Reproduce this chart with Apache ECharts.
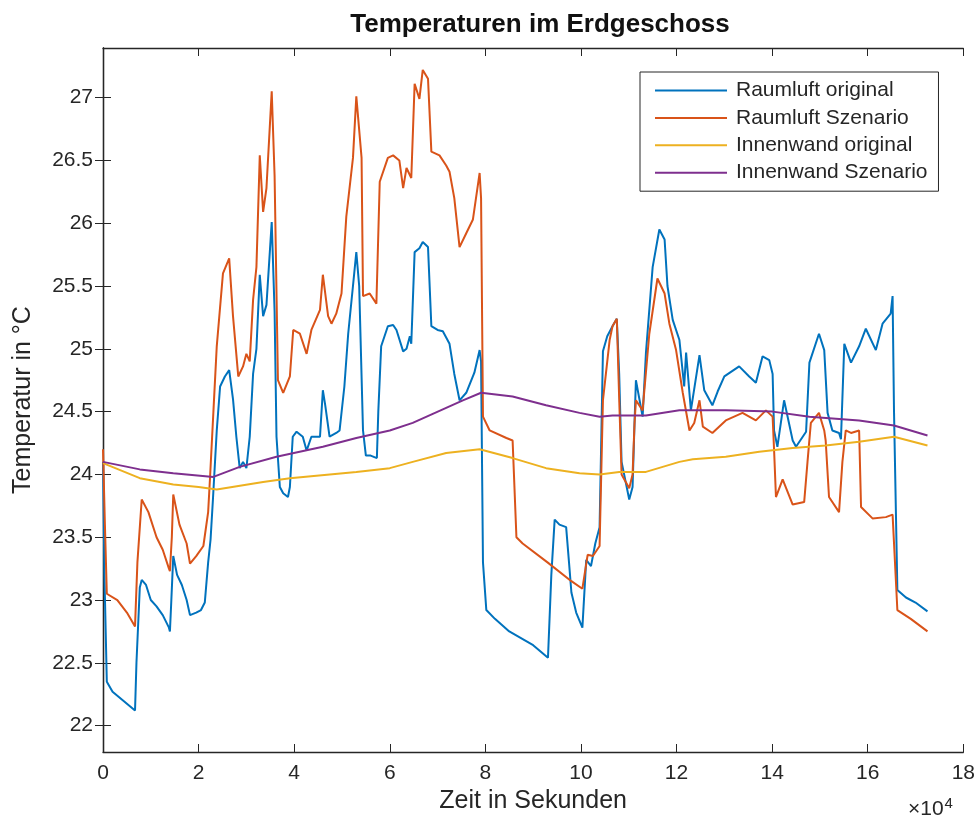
<!DOCTYPE html>
<html>
<head>
<meta charset="utf-8">
<script src="https://cdn.jsdelivr.net/npm/echarts@6/dist/echarts.min.js"></script>
<style>html,body{margin:0;padding:0;background:#fff;}#c{width:978px;height:821px;}</style>
</head>
<body>
<div id="c"></div>
<script>
// time in units of 10^4 s
const xTicks = [0, 2, 4, 6, 8, 10, 12, 14, 16, 18];
const yTicks = [22, 22.5, 23, 23.5, 24, 24.5, 25, 25.5, 26, 26.5, 27];
const seriesNames = ['Raumluft original', 'Raumluft Szenario', 'Innenwand original', 'Innenwand Szenario'];

const raumOrigT = [0,0.03,0.08,0.2,0.67,0.70,0.77,0.81,0.9,1.0,1.12,1.25,1.38,1.40,1.43,1.47,1.55,1.65,1.75,1.82,1.95,2.05,2.13,2.2,2.25,2.3,2.38,2.45,2.55,2.64,2.72,2.79,2.86,2.93,3.0,3.07,3.14,3.21,3.28,3.35,3.42,3.53,3.59,3.63,3.70,3.77,3.87,3.91,3.97,4.05,4.18,4.26,4.36,4.54,4.60,4.65,4.74,4.88,4.95,5.05,5.13,5.23,5.30,5.36,5.44,5.5,5.6,5.73,5.76,5.82,5.96,6.07,6.14,6.28,6.35,6.42,6.45,6.52,6.62,6.69,6.80,6.87,7.0,7.11,7.25,7.35,7.46,7.60,7.77,7.88,7.91,7.95,8.02,8.2,8.5,9.0,9.31,9.38,9.45,9.55,9.69,9.75,9.80,9.9,10.03,10.11,10.21,10.30,10.39,10.46,10.55,10.66,10.75,10.80,10.85,11.01,11.08,11.12,11.15,11.29,11.36,11.50,11.64,11.75,11.81,11.92,12.06,12.16,12.20,12.30,12.48,12.58,12.75,12.86,13.0,13.31,13.52,13.66,13.80,13.94,14.01,14.04,14.11,14.25,14.43,14.50,14.71,14.78,14.98,15.09,15.16,15.26,15.40,15.44,15.51,15.65,15.82,15.96,16.17,16.31,16.48,16.52,16.55,16.62,16.8,17.0,17.25];
const raumOrigV = [24.1,23.2,22.35,22.27,22.12,22.5,23.1,23.16,23.12,23.0,22.95,22.88,22.78,22.75,23.0,23.35,23.2,23.12,23.0,22.88,22.9,22.92,22.98,23.3,23.48,23.8,24.35,24.7,24.78,24.83,24.6,24.3,24.05,24.1,24.05,24.3,24.8,25.0,25.59,25.26,25.35,26.01,25.3,24.3,23.9,23.85,23.82,23.9,24.3,24.34,24.3,24.19,24.3,24.3,24.67,24.55,24.3,24.33,24.35,24.7,25.12,25.5,25.77,25.5,24.35,24.15,24.15,24.13,24.5,25.02,25.18,25.19,25.15,24.98,25.0,25.1,25.04,25.77,25.8,25.85,25.81,25.18,25.15,25.14,25.04,24.8,24.59,24.65,24.81,24.99,24.9,23.3,22.92,22.85,22.75,22.64,22.54,23.2,23.64,23.6,23.58,23.3,23.06,22.9,22.78,23.32,23.27,23.45,23.58,24.98,25.1,25.18,25.24,24.8,24.1,23.8,23.9,24.4,24.75,24.46,24.97,25.65,25.95,25.87,25.5,25.23,25.07,24.7,24.97,24.51,24.95,24.67,24.55,24.66,24.78,24.86,24.78,24.73,24.94,24.91,24.8,24.35,24.22,24.59,24.27,24.22,24.34,24.89,25.12,24.99,24.49,24.35,24.33,24.28,25.04,24.89,25.02,25.16,24.99,25.2,25.28,25.42,24.5,23.08,23.02,22.98,22.91];

const raumSzenT = [0,0.04,0.08,0.3,0.5,0.67,0.72,0.81,0.95,1.12,1.25,1.38,1.40,1.44,1.47,1.6,1.75,1.82,1.95,2.10,2.2,2.24,2.31,2.38,2.51,2.64,2.72,2.83,2.93,3.0,3.07,3.14,3.21,3.28,3.35,3.42,3.53,3.59,3.66,3.77,3.91,3.98,4.12,4.26,4.36,4.54,4.60,4.71,4.78,4.88,4.99,5.09,5.23,5.30,5.41,5.44,5.58,5.72,5.79,5.96,6.07,6.2,6.28,6.35,6.45,6.52,6.62,6.69,6.80,6.87,7.04,7.18,7.25,7.35,7.46,7.60,7.74,7.88,7.91,7.95,8.09,8.44,8.57,8.61,8.65,8.78,9.3,9.8,10.03,10.14,10.25,10.39,10.46,10.60,10.66,10.75,10.80,10.85,11.01,11.08,11.12,11.15,11.29,11.43,11.60,11.75,11.85,11.99,12.13,12.27,12.37,12.48,12.55,12.75,13.03,13.38,13.66,13.87,14.01,14.04,14.08,14.22,14.43,14.67,14.74,14.81,14.98,15.09,15.12,15.19,15.40,15.47,15.54,15.65,15.82,15.86,16.10,16.38,16.52,16.62,16.9,17.25];
const raumSzenV = [24.2,23.6,23.05,23.0,22.9,22.79,23.3,23.8,23.7,23.5,23.4,23.25,23.23,23.5,23.84,23.6,23.45,23.29,23.35,23.43,23.7,23.98,24.5,25.02,25.6,25.72,25.26,24.78,24.86,24.96,24.9,25.39,25.65,26.54,26.09,26.28,27.05,26.38,24.75,24.65,24.78,25.15,25.12,24.96,25.15,25.31,25.59,25.26,25.2,25.28,25.44,26.05,26.52,27.01,26.52,25.42,25.44,25.36,26.33,26.52,26.54,26.5,26.28,26.44,26.36,27.11,26.99,27.22,27.15,26.57,26.54,26.46,26.41,26.2,25.81,25.92,26.03,26.4,26.2,24.46,24.35,24.29,24.27,24.26,23.5,23.45,23.3,23.15,23.09,23.36,23.35,23.43,24.59,25.07,25.18,25.24,24.6,24.0,23.89,24.0,24.4,24.59,24.51,25.12,25.56,25.44,25.2,24.99,24.65,24.35,24.41,24.59,24.38,24.33,24.43,24.49,24.43,24.51,24.46,24.2,23.82,23.96,23.76,23.78,24.1,24.41,24.49,24.35,24.27,23.82,23.7,24.1,24.35,24.33,24.35,23.74,23.65,23.66,23.68,22.92,22.85,22.75];

const wandOrigT = [0,0.77,1.47,2.0,2.38,3.35,3.91,5.30,6.0,6.48,7.18,7.88,8.57,9.27,9.97,10.39,10.80,11.36,12.06,12.34,13.03,13.73,14.43,15.12,15.82,16.55,17.25];
const wandOrigV = [24.09,23.97,23.92,23.9,23.88,23.94,23.97,24.02,24.05,24.1,24.17,24.2,24.13,24.05,24.01,24.0,24.02,24.02,24.1,24.12,24.14,24.18,24.21,24.23,24.26,24.3,24.23];

const wandSzenT = [0,0.77,1.47,2.31,2.86,3.63,4.60,5.30,6.0,6.48,7.18,7.53,7.91,8.57,9.27,9.97,10.39,10.66,11.36,12.06,13.03,14.01,14.78,15.82,16.55,17.25];
const wandSzenV = [24.1,24.04,24.01,23.98,24.06,24.14,24.22,24.29,24.35,24.41,24.53,24.59,24.65,24.62,24.55,24.49,24.46,24.47,24.47,24.51,24.51,24.5,24.46,24.43,24.39,24.31];

const colors = ['#0072BD', '#D95319', '#EDB120', '#7E2F8E'];
const zip = (t, v) => t.map((x, i) => [x, v[i]]);
const allData = [zip(raumOrigT, raumOrigV), zip(raumSzenT, raumSzenV), zip(wandOrigT, wandOrigV), zip(wandSzenT, wandSzenV)];

const axisColor = '#262626';
const font = 'Liberation Sans, Arial, Helvetica, sans-serif';

const chart = echarts.init(document.getElementById('c'), null, {renderer: 'canvas'});
chart.setOption({
  backgroundColor: '#fff',
  animation: false,
  color: colors,
  title: {
    text: 'Temperaturen im Erdgeschoss',
    left: 535, top: 7, textAlign: 'center',
    textStyle: {fontFamily: font, fontSize: 26, fontWeight: 'bold', color: '#111'}
  },
  legend: {
    data: seriesNames,
    orient: 'vertical',
    left: 640, top: 72,
    padding: [8, 11, 8, 15],
    icon: 'rect',
    itemWidth: 72, itemHeight: 2, itemGap: 6.4,
    backgroundColor: '#fff',
    borderColor: axisColor, borderWidth: 1,
    textStyle: {fontFamily: font, fontSize: 21, color: axisColor, lineHeight: 20, padding: [0, 0, 0, 4]}
  },
  grid: {left: 103, right: 14, top: 48, bottom: 69, containLabel: false},
  xAxis: [{
    type: 'value', min: 0, max: 18, interval: 2,
    position: 'bottom',
    name: 'Zeit in Sekunden', nameLocation: 'middle', nameGap: 37,
    nameTextStyle: {fontFamily: font, fontSize: 25, color: axisColor},
    axisLine: {show: true, lineStyle: {color: axisColor, width: 1.3}},
    axisTick: {show: true, inside: true, length: 8, lineStyle: {color: axisColor}},
    axisLabel: {fontFamily: font, fontSize: 21, color: axisColor, margin: 11},
    splitLine: {show: false}
  }, {
    type: 'value', min: 0, max: 18, interval: 2,
    position: 'top',
    axisLine: {show: true, lineStyle: {color: axisColor, width: 1.3}},
    axisTick: {show: true, inside: true, length: 8, lineStyle: {color: axisColor}},
    axisLabel: {show: false},
    splitLine: {show: false}
  }],
  yAxis: [{
    type: 'value', min: 21.79, max: 27.395,
    position: 'left',
    name: 'Temperatur in °C', nameLocation: 'middle', nameGap: 67,
    nameTextStyle: {fontFamily: font, fontSize: 25, color: axisColor},
    axisLine: {show: true, lineStyle: {color: axisColor, width: 1.3}},
    axisTick: {show: true, inside: true, length: 8, customValues: yTicks, lineStyle: {color: axisColor}},
    axisLabel: {fontFamily: font, fontSize: 21, color: axisColor, margin: 10, customValues: yTicks},
    splitLine: {show: false}
  }, {
    type: 'value', min: 21.79, max: 27.395,
    position: 'right',
    axisLine: {show: true, lineStyle: {color: axisColor, width: 1.3}},
    axisTick: {show: true, inside: true, length: 8, customValues: yTicks, lineStyle: {color: axisColor}},
    axisLabel: {show: false, customValues: yTicks},
    splitLine: {show: false}
  }],
  graphic: [{
    type: 'text', left: 908, top: 796,
    style: {
      text: '×10{s|4}',
      rich: {s: {fontFamily: font, fontSize: 15, verticalAlign: 'top', padding: [0, 0, 12, 1], fill: axisColor}},
      fontFamily: font, fontSize: 21, fill: axisColor
    }
  }],
  series: seriesNames.map((n, i) => ({
    name: n, type: 'line', xAxisIndex: 0, yAxisIndex: 0,
    data: allData[i], symbol: 'none', showSymbol: false,
    lineStyle: {width: 2, color: colors[i]},
    itemStyle: {color: colors[i]}
  }))
});
</script>
</body>
</html>
